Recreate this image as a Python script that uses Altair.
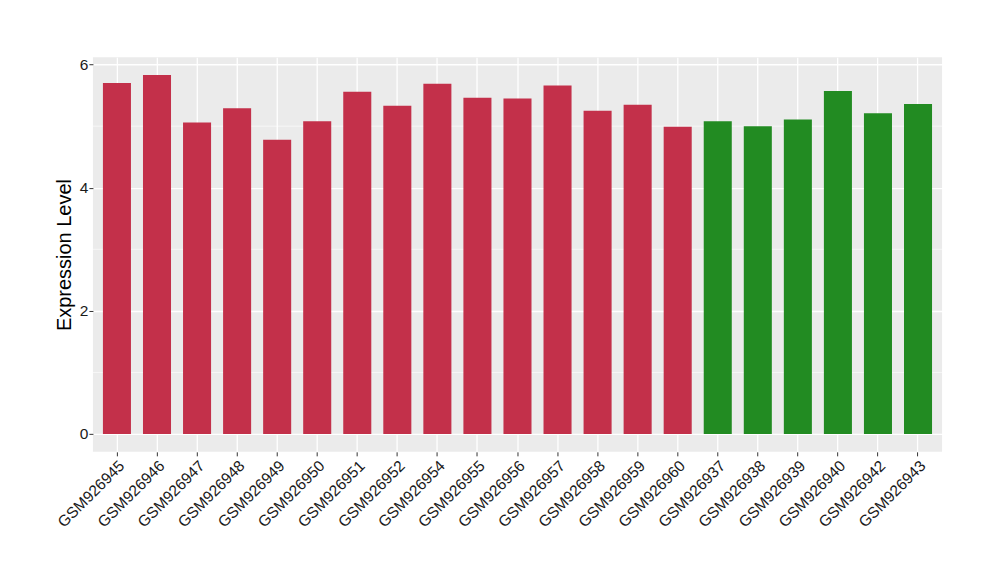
import altair as alt
import pandas as pd

samples = ["GSM926945", "GSM926946", "GSM926947", "GSM926948", "GSM926949",
           "GSM926950", "GSM926951", "GSM926952", "GSM926954", "GSM926955",
           "GSM926956", "GSM926957", "GSM926958", "GSM926959", "GSM926960",
           "GSM926937", "GSM926938", "GSM926939", "GSM926940", "GSM926942",
           "GSM926943"]
values = [5.70, 5.83, 5.06, 5.29, 4.78, 5.08, 5.56, 5.33, 5.69, 5.46,
          5.45, 5.66, 5.25, 5.35, 4.99, 5.08, 5.00, 5.11, 5.57, 5.21, 5.36]
groups = ["A"] * 15 + ["B"] * 6
group_names = ["A", "B"]
group_colors = ["#C3304A", "#228B22"]
minor_breaks = [1, 3, 5]
major_breaks = [0, 2, 4, 6]

df = pd.DataFrame({"sample": samples, "value": values, "group": groups})
minor_df = pd.DataFrame({"y": minor_breaks})

FONT = "Liberation Sans"

minor = alt.Chart(minor_df).mark_rule(color="white", strokeWidth=0.6).encode(
    y=alt.Y("y:Q")
)

bars = alt.Chart(df).mark_bar().encode(
    x=alt.X("sample:N", sort=samples,
            scale=alt.Scale(paddingInner=0.3, paddingOuter=0.25),
            axis=alt.Axis(title=None, labelAngle=-45, labelAlign="right",
                          labelBaseline="top", labelFontSize=15.5,
                          labelColor="#1a1a1a", labelFont=FONT,
                          grid=True, gridColor="white", gridWidth=1.3,
                          bandPosition=0.5, tickBand="center",
                          ticks=True, tickColor="#333333", tickSize=4,
                          domain=False, labelPadding=2)),
    y=alt.Y("value:Q",
            scale=alt.Scale(domain=[-0.29, 6.12], nice=False, zero=False),
            axis=alt.Axis(title="Expression Level", values=major_breaks,
                          format="d",
                          titleFontSize=20, titleFont=FONT,
                          titleFontWeight="normal", titleColor="black",
                          labelFontSize=15.5, labelFont=FONT,
                          labelColor="#1a1a1a",
                          grid=True, gridColor="white", gridWidth=1.3,
                          tickColor="#333333", tickSize=4, domain=False,
                          titlePadding=5, labelPadding=1)),
    color=alt.Color("group:N",
                    scale=alt.Scale(domain=group_names, range=group_colors),
                    legend=None),
)

chart = alt.layer(minor, bars).properties(
    width=850, height=395,
    autosize=alt.AutoSizeParams(type="none"),
    padding={"left": 85, "top": 49, "right": 50, "bottom": 120},
).configure_view(fill="#EBEBEB", stroke=None).configure_axis(
    gridOpacity=1
)

chart.save("out.html", embed_options={"renderer": "svg", "actions": False})
